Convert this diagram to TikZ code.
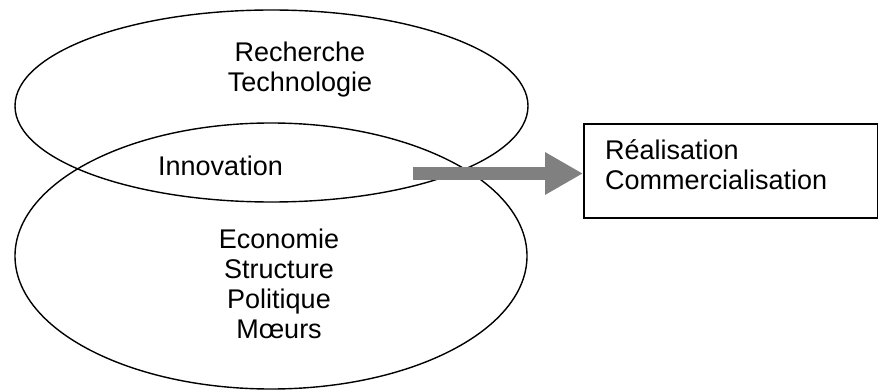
\documentclass[tikz,border=0pt]{standalone}
\usepackage{fontspec}
\setmainfont{Liberation Sans}
\usetikzlibrary{shapes.geometric,arrows.meta}
\definecolor{arrowgray}{RGB}{128,128,128}
\begin{document}
\begin{tikzpicture}[x=1pt,y=-1pt,
  ring/.style={ellipse,draw=black,line width=1.4pt,inner sep=0pt},
  label/.style={font=\fontsize{27}{30}\selectfont,inner sep=0pt},
  outbox/.style={draw=black,line width=1.6pt,inner sep=0pt,anchor=north west},
  flow/.style={draw=arrowgray,line width=13pt,-{Triangle[length=38pt,width=40pt]}}]
  \useasboundingbox (0,0) rectangle (878,390);
  % the two overlapping domains
  \node[ring,minimum width=513pt,minimum height=192pt] (rt) at (271.5,106) {};
  \node[ring,minimum width=512pt,minimum height=266pt] (sc) at (271,256) {};
  % their contents (base anchor sits on the last line)
  \node[label,align=center,anchor=base] (rtxt) at (300,92) {Recherche\\Technologie};
  \node[label,anchor=base west] (inno) at (158,176) {Innovation};
  \node[label,align=center,anchor=base] (stxt) at (279,338) {Economie\\Structure\\Politique\\Mœurs};
  % outcome box
  \node[outbox,minimum width=294pt,minimum height=94pt] (box) at (583,123) {};
  \node[label,align=left,anchor=base west] (btxt) at (605,190) {Réalisation\\Commercialisation};
  % flow from innovation to the outcome
  \coordinate (start) at (413,173.5);
  \draw[flow] (start) -- (start -| box.west);
\end{tikzpicture}
\end{document}
